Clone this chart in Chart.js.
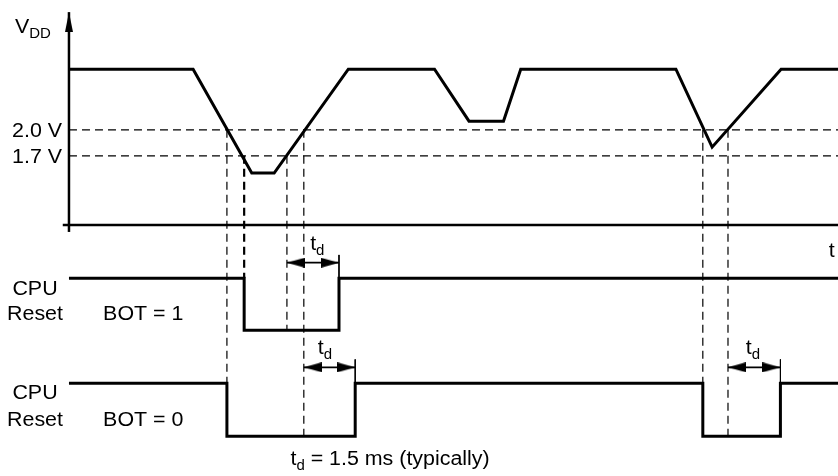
<!DOCTYPE html>
<html>
<head>
<meta charset="utf-8">
<script src="https://cdn.jsdelivr.net/npm/chart.js@4.4.1/dist/chart.umd.min.js"></script>
<style>
  html, body { margin: 0; padding: 0; background: #fff; }
  #wrap { width: 838px; height: 476px; }
</style>
</head>
<body>
<div id="wrap"><canvas id="chart" width="838" height="476"></canvas></div>
<script>
// VDD waveform (time in ms, level in V)
const vddTimeMs = [0, 3.6, 5.3, 5.95, 8.1, 10.6, 11.6, 12.6, 13.1, 17.6, 18.65, 20.65, 22.3];
const vddVolts = [2.7, 2.7, 1.5, 1.5, 2.7, 2.7, 2.1, 2.1, 2.7, 2.7, 1.8, 2.7, 2.7];

// thresholds
const thresholdVolts = [2.0, 1.7];
const thresholdLabels = ['2.0 V', '1.7 V'];

// CPU reset, BOT = 1 (logic level)
const resetBot1Time = [0, 5.08, 5.08, 7.83, 7.83, 22.3];
const resetBot1Level = [1, 1, 0, 0, 1, 1];

// CPU reset, BOT = 0
const resetBot0Time = [0, 4.58, 4.58, 8.3, 8.3, 18.38, 18.38, 20.63, 20.63, 22.3];
const resetBot0Level = [1, 1, 0, 0, 1, 1, 0, 0, 1, 1];

// td arrows [start, end] in ms
const tdArrowsBot1 = [[6.32, 7.83]];
const tdArrowsBot0 = [[6.81, 8.3], [19.11, 20.63]];

// dashed guides: time, from threshold (V), down to reset trace level
const guides = [
  { t: 4.58, fromV: 2.0, axis: 'r0', level: 1, w: 1.2 },
  { t: 5.08, fromV: 1.7, axis: 'r1', level: 1, w: 2.2 },
  { t: 6.32, fromV: 1.7, axis: 'r1', level: 0, w: 1.2 },
  { t: 6.81, fromV: 2.0, axis: 'r0', level: 0, w: 1.2 },
  { t: 18.38, fromV: 2.0, axis: 'r0', level: 1, w: 1.2 },
  { t: 19.11, fromV: 2.0, axis: 'r0', level: 0, w: 1.2 }
];

const FONT = '"Liberation Sans", Arial, Helvetica, sans-serif';
const STRETCH = 1.07; // source font is a bit wider than Arial

const xy = (ts, vs) => ts.map((t, i) => ({ x: t, y: vs[i] }));

function arrowHead(len, half) {
  const c = document.createElement('canvas');
  c.width = len * 2;
  c.height = half * 2;
  const g = c.getContext('2d');
  g.fillStyle = '#000';
  g.beginPath();
  g.moveTo(0, 0);
  g.lineTo(len, half);
  g.lineTo(0, half * 2);
  g.closePath();
  g.fill();
  return c;
}
const axisHead = arrowHead(20, 4);
const tdHead = arrowHead(18, 5);

const line = (data, axis, width, extra) => Object.assign({
  data: data,
  yAxisID: axis,
  showLine: true,
  borderColor: '#000',
  borderWidth: width,
  pointRadius: 0,
  fill: false,
  tension: 0
}, extra || {});

const datasets = [
  line(xy(vddTimeMs, vddVolts), 'v', 3),
  line(xy(resetBot1Time, resetBot1Level), 'r1', 3),
  line(xy(resetBot0Time, resetBot0Level), 'r0', 3)
];

thresholdVolts.forEach(v => {
  datasets.push(line([{ x: 0, y: v }, { x: 22.3, y: v }], 'v', 1.2, { borderDash: [8, 5] }));
});

// axes
datasets.push(line([{ x: -0.18, y: 0.9 }, { x: 22.5, y: 0.9 }], 'v', 2.5, {
  pointRadius: [0, 4], pointStyle: axisHead, pointRotation: 0
}));
datasets.push(line([{ x: 0, y: 0.82 }, { x: 0, y: 3.36 }], 'v', 2.5, {
  pointRadius: [0, 4], pointStyle: axisHead, pointRotation: -90
}));

function addTd(arrows, axis) {
  arrows.forEach(([a, b]) => {
    datasets.push(line([{ x: a, y: 1.3 }, { x: b, y: 1.3 }], axis, 1.8, {
      pointRadius: 4, pointStyle: tdHead, pointRotation: [180, 0]
    }));
    datasets.push(line([{ x: b, y: 1.45 }, { x: b, y: 1 }], axis, 1));
  });
}
addTd(tdArrowsBot1, 'r1');
addTd(tdArrowsBot0, 'r0');

const labels = [
  { x: -1.565, y: 3.12, axis: 'v', text: 'V', sub: 'DD', align: 'left' },
  { x: -0.2, y: thresholdVolts[0], axis: 'v', text: thresholdLabels[0], align: 'right', dy: 7 },
  { x: -0.2, y: thresholdVolts[1], axis: 'v', text: thresholdLabels[1], align: 'right', dy: 7 },
  { x: 22.12, y: 0.53, axis: 'v', text: 't', align: 'center' },
  { x: -0.985, y: 0.68, axis: 'r1', text: 'CPU', align: 'center' },
  { x: -0.985, y: 0.2, axis: 'r1', text: 'Reset', align: 'center' },
  { x: 0.99, y: 0.2, axis: 'r1', text: 'BOT = 1', align: 'left' },
  { x: -0.985, y: 0.7, axis: 'r0', text: 'CPU', align: 'center' },
  { x: -0.985, y: 0.2, axis: 'r0', text: 'Reset', align: 'center' },
  { x: 0.99, y: 0.2, axis: 'r0', text: 'BOT = 0', align: 'left' },
  { x: 7.2, y: 1.55, axis: 'r1', text: 't', sub: 'd', align: 'center' },
  { x: 7.42, y: 1.55, axis: 'r0', text: 't', sub: 'd', align: 'center' },
  { x: 19.83, y: 1.55, axis: 'r0', text: 't', sub: 'd', align: 'center' },
  { x: 9.31, y: -0.55, axis: 'r0', text: 't', sub: 'd', rest: ' = 1.5 ms (typically)', align: 'center' }
];

const guidePlugin = {
  id: 'guides',
  beforeDatasetsDraw(chart) {
    const ctx = chart.ctx;
    const sx = chart.scales.x, sv = chart.scales.v;
    ctx.save();
    ctx.strokeStyle = '#000';
    ctx.setLineDash([8, 5]);
    guides.forEach(g => {
      const px = sx.getPixelForValue(g.t);
      ctx.lineWidth = g.w;
      ctx.beginPath();
      ctx.moveTo(px, sv.getPixelForValue(g.fromV));
      ctx.lineTo(px, chart.scales[g.axis].getPixelForValue(g.level));
      ctx.stroke();
    });
    ctx.restore();
  }
};

const textPlugin = {
  id: 'texts',
  afterDatasetsDraw(chart) {
    const ctx = chart.ctx;
    const sx = chart.scales.x;
    const main = '20px ' + FONT, small = '14px ' + FONT;
    labels.forEach(l => {
      ctx.save();
      ctx.fillStyle = '#000';
      ctx.textBaseline = 'alphabetic';
      ctx.textAlign = 'left';
      ctx.font = main;
      const w1 = ctx.measureText(l.text).width;
      const w3 = l.rest ? ctx.measureText(l.rest).width : 0;
      ctx.font = small;
      const w2 = l.sub ? ctx.measureText(l.sub).width : 0;
      const total = (w1 + w2 + w3) * STRETCH;
      let px = sx.getPixelForValue(l.x);
      const py = chart.scales[l.axis].getPixelForValue(l.y) + (l.dy || 0);
      if (l.align === 'center') px -= total / 2;
      else if (l.align === 'right') px -= total;
      ctx.translate(px, py);
      ctx.scale(STRETCH, 1);
      ctx.font = main;
      ctx.fillText(l.text, 0, 0);
      if (l.sub) {
        ctx.font = small;
        ctx.fillText(l.sub, w1, 5);
      }
      if (l.rest) {
        ctx.font = main;
        ctx.fillText(l.rest, w1 + w2, 0);
      }
      ctx.restore();
    });
  }
};

new Chart(document.getElementById('chart'), {
  type: 'scatter',
  data: { datasets: datasets },
  options: {
    responsive: false,
    animation: false,
    events: [],
    devicePixelRatio: 1,
    layout: { padding: 0, autoPadding: false },
    plugins: { legend: { display: false }, tooltip: { enabled: false } },
    scales: {
      x: { type: 'linear', min: -2, max: 22.3, display: false },
      v: { type: 'linear', position: 'left', min: -2, max: 3.5, display: false },
      r1: { type: 'linear', position: 'left', min: -2.8, max: 6.35, display: false },
      r0: { type: 'linear', position: 'left', min: -0.75, max: 8.23, display: false }
    }
  },
  plugins: [guidePlugin, textPlugin]
});
</script>
</body>
</html>
